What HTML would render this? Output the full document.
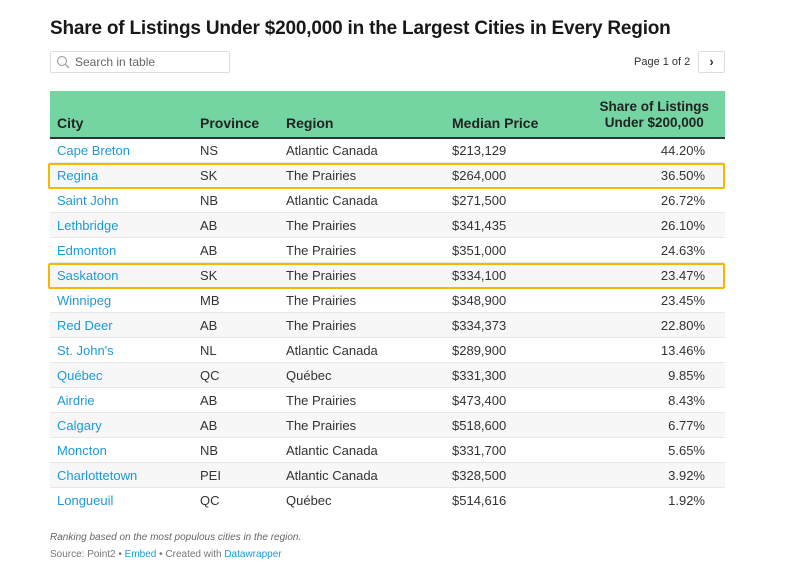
<!DOCTYPE html>
<html><head><meta charset="utf-8"><style>
body{margin:0;background:#fff;font-family:"Liberation Sans",sans-serif;color:#333;width:801px;height:571px;overflow:hidden;position:relative}
.t{position:absolute;left:50px;top:18px;font-size:19px;font-weight:bold;color:#181818;letter-spacing:-0.2px}
.s{position:absolute;left:50px;top:51px;width:178px;height:20px;border:1px solid #ddd;border-radius:2px;font-size:12px;color:#666;line-height:20px}
.s span{position:absolute;left:24px}
.pg{position:absolute;left:634px;top:56px;font-size:11px;line-height:13px;color:#333;white-space:nowrap}
.btn{position:absolute;left:698px;top:51px;width:25px;height:20px;border:1px solid #ddd;border-radius:2px;text-align:center;line-height:20px;font-size:13px;font-weight:bold}
.hd{position:absolute;left:50px;top:91px;width:675px;height:46px;background:#75d5a2;border-bottom:2px solid #333}
.hd div{position:absolute;font-size:14px;font-weight:bold;color:#222;bottom:6px}
.r{position:absolute;left:50px;width:675px;height:24px;border-bottom:1px solid #e8e8e8;font-size:13px;line-height:26px}
.r div{position:absolute;top:0}
.r.a{background:#f7f7f7}
.c1{left:7px;color:#1d9ad6}.c2{left:150px}.c3{left:236px}.c4{left:402px}.c5{right:20px}
.hl{position:absolute;left:48px;width:673px;height:22px;border:2px solid #f5b800;border-radius:2px}
.n{position:absolute;left:50px;top:532px;font-size:10px;font-style:italic;color:#666}
.src{position:absolute;left:50px;top:549px;font-size:10px;color:#777}
.src b{font-weight:normal;color:#1d9ad6}
</style></head><body>
<div class="t">Share of Listings Under $200,000 in the Largest Cities in Every Region</div>
<div class="s"><svg style="position:absolute;left:5px;top:3px" width="14" height="14"><circle cx="6" cy="6" r="4.5" fill="none" stroke="#aaa" stroke-width="1.3"/><line x1="9.3" y1="9.3" x2="13" y2="13" stroke="#aaa" stroke-width="1.5"/></svg><span>Search in table</span></div>
<div class="pg">Page 1 of 2</div>
<div class="btn">›</div>
<div class="hd"><div style="left:7px">City</div><div style="left:150px">Province</div><div style="left:236px">Region</div><div style="left:402px">Median Price</div><div style="right:16px;text-align:center;line-height:16px;font-size:13.5px">Share of Listings<br>Under $200,000</div></div>
<div class="r" style="top:138px"><div class="c1">Cape Breton</div><div class="c2">NS</div><div class="c3">Atlantic Canada</div><div class="c4">$213,129</div><div class="c5">44.20%</div></div>
<div class="r a" style="top:163px"><div class="c1">Regina</div><div class="c2">SK</div><div class="c3">The Prairies</div><div class="c4">$264,000</div><div class="c5">36.50%</div></div>
<div class="r" style="top:188px"><div class="c1">Saint John</div><div class="c2">NB</div><div class="c3">Atlantic Canada</div><div class="c4">$271,500</div><div class="c5">26.72%</div></div>
<div class="r a" style="top:213px"><div class="c1">Lethbridge</div><div class="c2">AB</div><div class="c3">The Prairies</div><div class="c4">$341,435</div><div class="c5">26.10%</div></div>
<div class="r" style="top:238px"><div class="c1">Edmonton</div><div class="c2">AB</div><div class="c3">The Prairies</div><div class="c4">$351,000</div><div class="c5">24.63%</div></div>
<div class="r a" style="top:263px"><div class="c1">Saskatoon</div><div class="c2">SK</div><div class="c3">The Prairies</div><div class="c4">$334,100</div><div class="c5">23.47%</div></div>
<div class="r" style="top:288px"><div class="c1">Winnipeg</div><div class="c2">MB</div><div class="c3">The Prairies</div><div class="c4">$348,900</div><div class="c5">23.45%</div></div>
<div class="r a" style="top:313px"><div class="c1">Red Deer</div><div class="c2">AB</div><div class="c3">The Prairies</div><div class="c4">$334,373</div><div class="c5">22.80%</div></div>
<div class="r" style="top:338px"><div class="c1">St. John's</div><div class="c2">NL</div><div class="c3">Atlantic Canada</div><div class="c4">$289,900</div><div class="c5">13.46%</div></div>
<div class="r a" style="top:363px"><div class="c1">Québec</div><div class="c2">QC</div><div class="c3">Québec</div><div class="c4">$331,300</div><div class="c5">9.85%</div></div>
<div class="r" style="top:388px"><div class="c1">Airdrie</div><div class="c2">AB</div><div class="c3">The Prairies</div><div class="c4">$473,400</div><div class="c5">8.43%</div></div>
<div class="r a" style="top:413px"><div class="c1">Calgary</div><div class="c2">AB</div><div class="c3">The Prairies</div><div class="c4">$518,600</div><div class="c5">6.77%</div></div>
<div class="r" style="top:438px"><div class="c1">Moncton</div><div class="c2">NB</div><div class="c3">Atlantic Canada</div><div class="c4">$331,700</div><div class="c5">5.65%</div></div>
<div class="r a" style="top:463px"><div class="c1">Charlottetown</div><div class="c2">PEI</div><div class="c3">Atlantic Canada</div><div class="c4">$328,500</div><div class="c5">3.92%</div></div>
<div class="r" style="top:488px;border-bottom:none"><div class="c1">Longueuil</div><div class="c2">QC</div><div class="c3">Québec</div><div class="c4">$514,616</div><div class="c5">1.92%</div></div>
<div class="hl" style="top:163px"></div>
<div class="hl" style="top:263px"></div>
<div class="n">Ranking based on the most populous cities in the region.</div>
<div class="src">Source: Point2 • <b>Embed</b> • Created with <b>Datawrapper</b></div>
</body></html>
